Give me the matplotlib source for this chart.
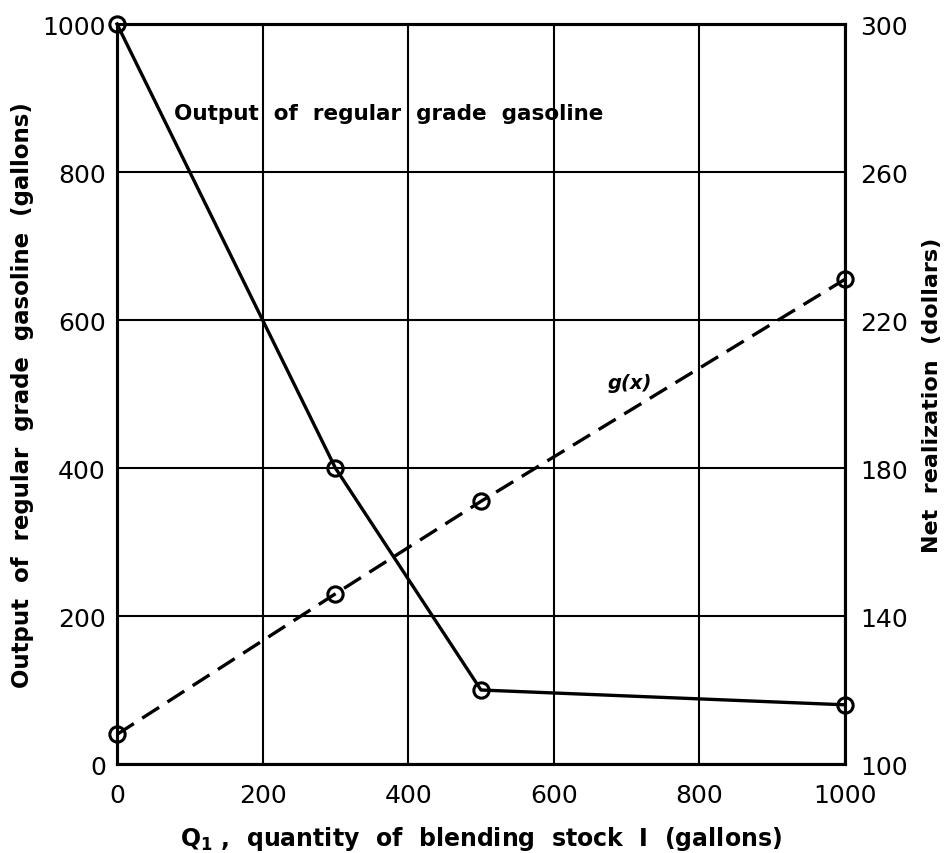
import matplotlib
matplotlib.use("Agg")
import matplotlib.pyplot as plt

plt.rcParams['font.family'] = ['DejaVu Sans']
plt.rcParams['mathtext.default'] = 'regular'

# Data
blend_qty = [0, 300, 500, 1000]
regular_output = [1000, 400, 100, 80]      # left axis, gallons
net_realization = [108, 146, 171, 231]     # right axis, dollars

x_ticks = [0, 200, 400, 600, 800, 1000]
left_ticks = [0, 200, 400, 600, 800, 1000]
right_ticks = [100, 140, 180, 220, 260, 300]

fig = plt.figure(figsize=(9.52, 8.54), dpi=100)
ax = fig.add_axes([0.1229, 0.1042, 0.7647, 0.8665])
ax2 = ax.twinx()

ax.set_xlim(0, 1000)
ax.set_ylim(0, 1000)
ax2.set_ylim(100, 300)

ax.set_xticks(x_ticks)
ax.set_yticks(left_ticks)
ax2.set_yticks(right_ticks)
ax.grid(True, color='black', linewidth=1.5)
ax.set_axisbelow(True)

for a in (ax, ax2):
    for s in a.spines.values():
        s.set_linewidth(2.2)
        s.set_color('black')

ax.tick_params(axis='both', length=0, labelsize=18, colors='black')
ax.tick_params(axis='x', pad=14)
ax.tick_params(axis='y', pad=8)
ax2.tick_params(axis='y', length=0, labelsize=18, pad=11)

ax.plot(blend_qty, regular_output, color='black', linewidth=2.4,
        marker='o', markersize=11, markerfacecolor='none', markeredgewidth=2.2,
        clip_on=False, zorder=5)
ax2.plot(blend_qty, net_realization, color='black', linewidth=2.4,
         linestyle=(0, (6, 3)), marker='o', markersize=11,
         markerfacecolor='none', markeredgewidth=2.2, clip_on=False, zorder=5)

ax.text(0.078, 0.88, 'Output  of  regular  grade  gasoline', transform=ax.transAxes,
        fontsize=15.5, fontweight='bold', ha='left', va='center')
ax2.text(705, 203, 'g(x)', fontsize=14, fontweight='bold', fontstyle='italic',
         ha='center', va='center')

ax.set_xlabel('Q$_1$ ,  quantity  of  blending  stock  I  (gallons)',
              fontsize=17, fontweight='bold', labelpad=12)
ax.set_ylabel('Output  of  regular  grade  gasoline  (gallons)',
              fontsize=16.5, fontweight='bold', labelpad=6)
ax2.set_ylabel('Net  realization  (dollars)', fontsize=16, fontweight='bold',
               labelpad=10)

fig.savefig('out.png', dpi=100)
